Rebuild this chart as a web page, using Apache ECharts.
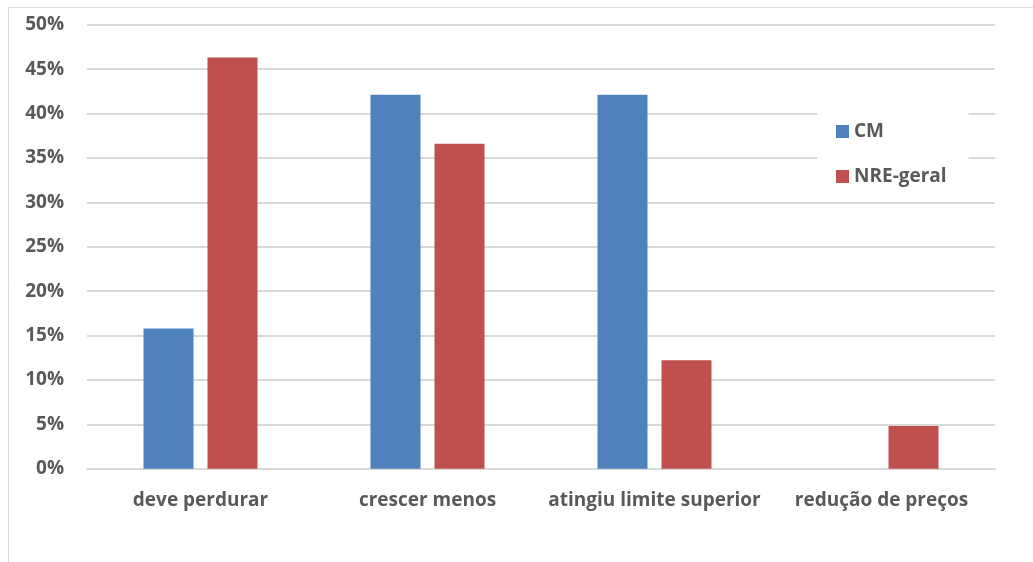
<!DOCTYPE html>
<html><head><meta charset="utf-8">
<script src="https://cdn.jsdelivr.net/npm/echarts@6/dist/echarts.min.js"></script>
<style>html,body{margin:0;padding:0;background:#fff}#c{width:1033px;height:562px}</style>
</head><body><div id="c"></div>
<script>
const categories = ['deve perdurar', 'crescer menos', 'atingiu limite superior', 'redução de preços'];
const seriesNames = ['CM', 'NRE-geral'];
const cmValues = [15.8, 42.1, 42.1, 0];
const nreValues = [46.3, 36.6, 12.2, 4.8];
const yTicks = [0, 5, 10, 15, 20, 25, 30, 35, 40, 45, 50];

const font = '"Open Sans", Lato, sans-serif';
const chart = echarts.init(document.getElementById('c'));
chart.setOption({
  animation: false,
  backgroundColor: '#fff',
  graphic: [
    {type: 'line', shape: {x1: 8.5, y1: 7.5, x2: 1033, y2: 7.5}, style: {stroke: '#d9d9d9', lineWidth: 1}},
    {type: 'line', shape: {x1: 8.5, y1: 7.5, x2: 8.5, y2: 562}, style: {stroke: '#d9d9d9', lineWidth: 1}}
  ],
  grid: {left: 87, right: 38, top: 24.7, bottom: 93.3, containLabel: false},
  legend: {
    orient: 'vertical', left: 817, top: 112, data: seriesNames,
    backgroundColor: '#fff', padding: [10, 22, 10, 19], itemGap: 26,
    itemWidth: 13, itemHeight: 13, icon: 'rect',
    textStyle: {color: '#595959', fontSize: 19, fontWeight: 'bold', fontFamily: font}
  },
  xAxis: {
    type: 'category', data: categories,
    axisLine: {lineStyle: {color: '#d9d9d9', width: 2}}, axisTick: {show: false},
    axisLabel: {color: '#595959', fontSize: 19, fontWeight: 'bold', fontFamily: font, margin: 22, interval: 0}
  },
  yAxis: {
    type: 'value', min: 0, max: 50, interval: 5,
    axisLine: {show: false}, axisTick: {show: false},
    splitLine: {lineStyle: {color: '#d9d9d9', width: 2}},
    axisLabel: {color: '#595959', fontSize: 19, fontWeight: 'bold', fontFamily: font, margin: 23,
      formatter: v => yTicks.includes(v) ? v + '%' : ''}
  },
  series: [
    {name: seriesNames[0], type: 'bar', data: cmValues, barWidth: 50, barGap: '28%',
      itemStyle: {color: '#4F81BD'}},
    {name: seriesNames[1], type: 'bar', data: nreValues, barWidth: 50, barGap: '28%',
      itemStyle: {color: '#C0504D'}}
  ]
});
</script></body></html>
